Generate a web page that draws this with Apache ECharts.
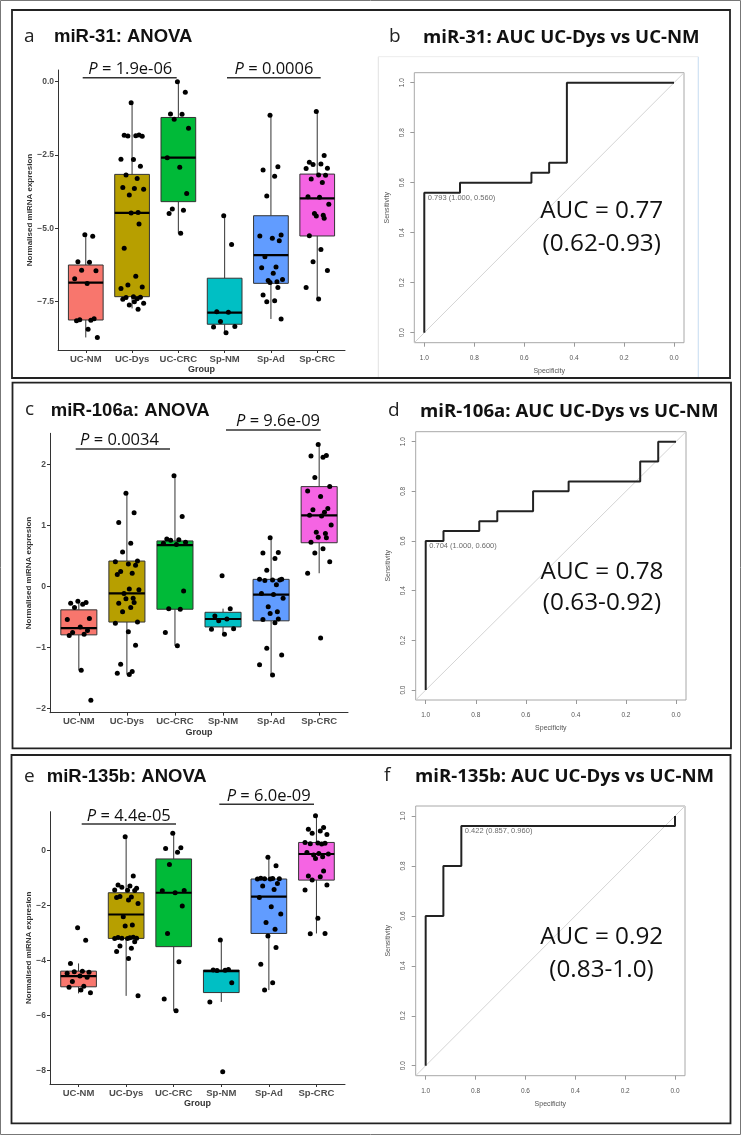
<!DOCTYPE html>
<html><head><meta charset="utf-8">
<script src="https://cdn.jsdelivr.net/npm/echarts@6/dist/echarts.min.js"></script>
<style>html,body{margin:0;padding:0;background:#fff}#c{width:741px;height:1135px}</style>
</head><body><div id="c"></div><script>
// ---------- categories ----------
const GROUPS = ['UC-NM','UC-Dys','UC-CRC','Sp-NM','Sp-Ad','Sp-CRC'];
const BOX_COLORS = ['#F8766D','#B79F00','#00BA38','#00BFC4','#619CFF','#F564E3'];

// ---------- miR-31 (panel a) ----------
const a_low  = [-8.72, -7.73, -5.17, -8.56, -8.09, -7.41];
const a_q1   = [-8.125, -7.33, -4.09, -8.27, -6.875, -5.26];
const a_med  = [-6.85, -4.47, -2.59, -7.875, -5.91, -3.98];
const a_q3   = [-6.25, -3.16, -1.22, -6.70, -4.57, -3.15];
const a_high = [-5.25, -0.72, 0.0, -4.57, -1.14, -1.02];
const a_UCNM  = [-5.22,-5.27,-6.14,-6.16,-6.43,-6.45,-6.72,-6.88,-8.08,-8.12,-8.13,-8.15,-8.44,-8.72];
const a_UCDys = [-0.72,-1.82,-1.83,-1.84,-1.85,-1.86,-2.64,-2.65,-2.88,-3.18,-3.30,-3.61,-3.64,-3.67,-3.86,-4.46,-4.48,-4.85,-5.68,-6.63,-6.93,-7.00,-7.05,-7.33,-7.35,-7.36,-7.40,-7.42,-7.50,-7.55,-7.61,-7.76];
const a_UCCRC = [0.0,-0.36,-1.10,-1.11,-1.28,-1.59,-2.59,-2.92,-3.81,-4.34,-4.38,-4.49,-5.17];
const a_SpNM  = [-4.57,-5.55,-7.84,-7.86,-8.18,-8.35,-8.36,-8.56];
const a_SpAd  = [-1.14,-2.90,-3.01,-3.22,-3.90,-5.23,-5.26,-5.34,-5.42,-5.97,-6.32,-6.34,-6.53,-6.74,-6.78,-6.82,-6.85,-7.02,-7.27,-7.47,-7.50,-8.09];
const a_SpCRC = [-1.02,-2.52,-2.75,-2.81,-2.82,-2.95,-2.96,-3.18,-3.19,-3.32,-3.44,-3.92,-3.94,-4.18,-4.49,-4.55,-4.58,-4.66,-5.25,-5.72,-6.14,-6.44,-7.02,-7.41];
const a_ticks = [-7.5,-5,-2.5,0];

// ---------- miR-106a (panel c) ----------
const c_low  = [-1.37, -1.44, -0.97, -0.78, -1.45, 0.22];
const c_q1   = [-0.79, -0.58, -0.37, -0.66, -0.56, 0.72];
const c_med  = [-0.68, -0.11, 0.68, -0.53, -0.13, 1.17];
const c_q3   = [-0.38, 0.42, 0.75, -0.42, 0.12, 1.64];
const c_high = [-0.24, 1.53, 1.82, -0.36, 0.80, 2.33];
const c_UCNM  = [-0.24,-0.26,-0.27,-0.29,-0.34,-0.52,-0.54,-0.66,-0.72,-0.75,-0.78,-0.80,-1.37,-1.86];
const c_UCDys = [1.53,1.21,1.05,0.71,0.57,0.42,0.41,0.37,0.35,0.25,0.22,0.20,-0.04,-0.05,-0.11,-0.19,-0.20,-0.26,-0.27,-0.34,-0.41,-0.58,-0.60,-0.74,-0.96,-1.27,-1.39,-1.42,-1.44];
const c_UCCRC = [1.82,1.15,0.78,0.77,0.76,0.73,0.71,0.69,-0.07,-0.36,-0.37,-0.75,-0.97];
const c_SpNM  = [0.18,-0.36,-0.48,-0.53,-0.56,-0.69,-0.70,-0.78];
const c_SpAd  = [0.80,0.56,0.55,0.46,0.27,0.12,0.12,0.11,0.11,0.10,0.03,-0.11,-0.13,-0.19,-0.33,-0.41,-0.44,-0.53,-0.54,-0.59,-1.01,-1.12,-1.28,-1.45];
const c_SpCRC = [2.33,2.15,2.14,2.12,1.79,1.64,1.57,1.48,1.28,1.26,1.22,1.17,1.16,1.01,0.89,0.87,0.81,0.80,0.73,0.62,0.55,0.41,0.22,-0.84];
const c_ticks = [-2,-1,0,1,2];

// ---------- miR-135b (panel e) ----------
const e_low  = [-5.19, -5.28, -5.82, -5.50, -5.07, -3.01];
const e_q1   = [-4.95, -3.19, -3.49, -5.16, -3.01, -1.07];
const e_med  = [-4.56, -2.32, -1.53, -4.38, -1.67, -0.12];
const e_q3   = [-4.38, -1.53, -0.30, -4.34, -1.03, 0.30];
const e_high = [-4.10, 0.51, 0.63, -3.25, -0.24, 1.27];
const e_UCNM  = [-2.80,-3.26,-4.10,-4.38,-4.40,-4.42,-4.46,-4.56,-4.60,-4.76,-4.93,-4.97,-5.07,-5.17];
const e_UCDys = [0.51,-0.92,-1.25,-1.28,-1.33,-1.37,-1.43,-1.44,-1.45,-1.67,-1.68,-1.70,-1.79,-1.92,-2.40,-2.70,-2.74,-3.15,-3.16,-3.17,-3.18,-3.18,-3.19,-3.19,-3.31,-3.47,-3.55,-3.67,-3.92,-5.28];
const e_UCCRC = [0.63,0.11,0.08,-0.06,-0.50,-1.45,-1.46,-1.53,-2.01,-3.01,-4.04,-5.39,-5.82];
const e_SpNM  = [-3.25,-4.32,-4.34,-4.35,-4.36,-4.80,-5.50,-8.04];
const e_SpAd  = [-0.24,-0.55,-1.00,-1.01,-1.02,-1.02,-1.03,-1.03,-1.19,-1.28,-1.41,-1.70,-2.04,-2.30,-2.61,-2.86,-3.10,-3.52,-4.13,-4.80,-5.07];
const e_SpCRC = [1.27,0.84,0.78,0.72,0.63,0.59,0.30,0.28,0.27,0.25,0.24,-0.07,-0.10,-0.12,-0.16,-0.22,-0.28,-0.74,-0.92,-0.95,-1.07,-1.25,-1.43,-2.46,-3.01,-3.02];
const e_ticks = [-8,-6,-4,-2,0];

// ---------- ROC curves ----------
const rocB_spec = [1, 1, 0.857, 0.857, 0.571, 0.571, 0.5, 0.5, 0.429, 0.429, 0];
const rocB_sens = [0, 0.56, 0.56, 0.60, 0.60, 0.64, 0.64, 0.68, 0.68, 1.0, 1.0];
const rocB_best = [0.793, 1.000, 0.560];
const rocD_spec = [1, 1, 0.929, 0.929, 0.786, 0.786, 0.714, 0.714, 0.571, 0.571, 0.429, 0.429, 0.143, 0.143, 0.071, 0.071, 0];
const rocD_sens = [0, 0.60, 0.60, 0.64, 0.64, 0.68, 0.68, 0.72, 0.72, 0.80, 0.80, 0.84, 0.84, 0.92, 0.92, 1.0, 1.0];
const rocD_best = [0.704, 1.000, 0.600];
const rocF_spec = [1, 1, 0.929, 0.929, 0.857, 0.857, 0, 0];
const rocF_sens = [0, 0.60, 0.60, 0.80, 0.80, 0.96, 0.96, 1.0];
const rocF_best = [0.422, 0.857, 0.960];
const roc_ticks = [0, 0.2, 0.4, 0.6, 0.8, 1.0];

// ---------- build ----------
const JIT = [-0.02, 0.15, -0.17, 0.08, -0.09, 0.22, -0.24, 0.03, 0.18, -0.13, 0.11, -0.2, 0.05, 0.25, -0.06, 0.13];
const grid = [], xAxis = [], yAxis = [], series = [], graphic = [];
const minus = s => String(s).replace('-', '\u2212');
const FONT = 'Liberation Sans';

function boxRender(params, api) {
  const x = api.value(0);
  const pLow = api.coord([x, api.value(1)]);
  const pQ1 = api.coord([x, api.value(2)]);
  const pMed = api.coord([x, api.value(3)]);
  const pQ3 = api.coord([x, api.value(4)]);
  const pHigh = api.coord([x, api.value(5)]);
  const w = api.size([0.75, 0])[0];
  const col = BOX_COLORS[params.dataIndex];
  const st = {stroke: '#333', lineWidth: 1};
  return {type: 'group', children: [
    {type: 'line', shape: {x1: pLow[0], y1: pLow[1], x2: pQ1[0], y2: pQ1[1]}, style: st},
    {type: 'line', shape: {x1: pQ3[0], y1: pQ3[1], x2: pHigh[0], y2: pHigh[1]}, style: st},
    {type: 'rect', shape: {x: pQ3[0] - w / 2, y: pQ3[1], width: w, height: pQ1[1] - pQ3[1]}, style: {fill: col, stroke: '#333', lineWidth: 1}},
    {type: 'line', shape: {x1: pMed[0] - w / 2, y1: pMed[1], x2: pMed[0] + w / 2, y2: pMed[1]}, style: {stroke: '#000', lineWidth: 2.2}}
  ]};
}

function boxPanel(g, yr, ticks, fmt, nameGap, stats, dots) {
  const gi = grid.length;
  grid.push({left: g[0], top: g[1], width: g[2], height: g[3]});
  xAxis.push({type: 'value', gridIndex: gi, min: -0.6, max: 5.6, splitLine: {show: false},
    axisLine: {show: true, onZero: false, lineStyle: {color: '#333', width: 1}},
    axisTick: {show: true, customValues: [0,1,2,3,4,5], length: 3, lineStyle: {color: '#333'}},
    axisLabel: {customValues: [0,1,2,3,4,5], formatter: v => GROUPS[Math.round(v)], margin: 4,
      fontSize: 9.5, fontWeight: 'bold', color: '#4d4d4d', fontFamily: FONT},
    name: 'Group', nameLocation: 'middle', nameGap: 13,
    nameTextStyle: {fontSize: 9, fontWeight: 'bold', color: '#333', fontFamily: FONT}});
  yAxis.push({type: 'value', gridIndex: gi, min: yr[0], max: yr[1], splitLine: {show: false},
    axisLine: {show: true, onZero: false, lineStyle: {color: '#333', width: 1}},
    axisTick: {show: true, customValues: ticks, length: 3, lineStyle: {color: '#333'}},
    axisLabel: {customValues: ticks, formatter: v => minus(fmt(v)), margin: 4,
      fontSize: 8.5, fontWeight: 'bold', color: '#4d4d4d', fontFamily: FONT},
    name: 'Normalised miRNA expresion', nameLocation: 'middle', nameGap: nameGap, nameRotate: 90,
    nameTextStyle: {fontSize: 8, fontWeight: 'bold', color: '#333', fontFamily: FONT}});
  series.push({type: 'custom', xAxisIndex: gi, yAxisIndex: gi, renderItem: boxRender, clip: false, z: 2,
    encode: {x: 0, y: [1,2,3,4,5]},
    data: GROUPS.map((_, i) => [i, stats[0][i], stats[1][i], stats[2][i], stats[3][i], stats[4][i]])});
  const pts = [];
  dots.forEach((arr, i) => arr.forEach((v, k) => pts.push([i + JIT[k % JIT.length], v])));
  series.push({type: 'scatter', xAxisIndex: gi, yAxisIndex: gi, data: pts, symbolSize: 5, z: 3,
    itemStyle: {color: '#000', opacity: 1}, silent: true});
}

function rocPanel(g, spec, sens, best) {
  const gi = grid.length;
  grid.push({left: g[0], top: g[1], width: g[2], height: g[3], show: true, borderColor: '#a8a8a8', borderWidth: 1, backgroundColor: 'transparent'});
  const lab = {customValues: roc_ticks, formatter: v => v.toFixed(1), fontSize: 6.5, color: '#555', fontFamily: FONT};
  xAxis.push({type: 'value', gridIndex: gi, min: -0.04, max: 1.04, inverse: true, splitLine: {show: false},
    axisLine: {show: false, onZero: false}, axisTick: {show: true, customValues: roc_ticks, length: 4, lineStyle: {color: '#999'}},
    axisLabel: Object.assign({margin: 12}, lab),
    name: 'Specificity', nameLocation: 'middle', nameGap: 25,
    nameTextStyle: {fontSize: 7, color: '#555', fontFamily: FONT}});
  yAxis.push({type: 'value', gridIndex: gi, min: -0.04, max: 1.04, splitLine: {show: false},
    axisLine: {show: false, onZero: false}, axisTick: {show: true, customValues: roc_ticks, length: 4, lineStyle: {color: '#999'}},
    axisLabel: Object.assign({margin: 9, rotate: 90}, lab),
    name: 'Sensitivity', nameLocation: 'middle', nameGap: 24,
    nameTextStyle: {fontSize: 7, color: '#555', fontFamily: FONT}});
  series.push({type: 'line', xAxisIndex: gi, yAxisIndex: gi, data: [[1.04, -0.04], [-0.04, 1.04]], showSymbol: false,
    lineStyle: {color: '#d4d4d4', width: 1}, silent: true, z: 1});
  series.push({type: 'line', xAxisIndex: gi, yAxisIndex: gi, data: spec.map((s, k) => [s, sens[k]]), showSymbol: false,
    lineStyle: {color: '#222', width: 2}, silent: true, z: 2});
  series.push({type: 'scatter', xAxisIndex: gi, yAxisIndex: gi, data: [[best[1], best[2]]], symbolSize: 1,
    itemStyle: {color: 'rgba(0,0,0,0)'}, silent: true, z: 3,
    label: {show: true, position: 'right', distance: 3, offset: [0, 5], fontSize: 7.5, color: '#444', fontFamily: FONT,
      formatter: () => best[0].toFixed(3) + ' (' + best[1].toFixed(3) + ', ' + best[2].toFixed(3) + ')'}});
}

boxPanel([58, 70, 287, 280], [-9.148, 0.399], a_ticks, v => v.toFixed(1), 24,
  [a_low, a_q1, a_med, a_q3, a_high], [a_UCNM, a_UCDys, a_UCCRC, a_SpNM, a_SpAd, a_SpCRC]);
boxPanel([50, 433.3, 298, 279.4], [-2.066, 2.514], c_ticks, v => v.toFixed(0), 16.5,
  [c_low, c_q1, c_med, c_q3, c_high], [c_UCNM, c_UCDys, c_UCCRC, c_SpNM, c_SpAd, c_SpCRC]);
boxPanel([50, 811.7, 295, 272.3], [-8.485, 1.418], e_ticks, v => v.toFixed(0), 16.5,
  [e_low, e_q1, e_med, e_q3, e_high], [e_UCNM, e_UCDys, e_UCCRC, e_SpNM, e_SpAd, e_SpCRC]);
rocPanel([414.3, 72.7, 269.7, 270], rocB_spec, rocB_sens, rocB_best);
rocPanel([415.7, 431.7, 270.3, 268.3], rocD_spec, rocD_sens, rocD_best);
rocPanel([415.7, 806, 269.3, 269.7], rocF_spec, rocF_sens, rocF_best);

// ---------- frames & texts ----------
function rect(x, y, w, h, stroke, lw) {
  graphic.push({type: 'rect', z: 90, shape: {x, y, width: w, height: h}, style: {fill: 'none', stroke, lineWidth: lw}, silent: true});
}
function line(x1, y1, x2, y2, stroke, lw) {
  graphic.push({type: 'line', z: 90, shape: {x1, y1, x2, y2}, style: {stroke, lineWidth: lw}, silent: true});
}
function txt(x, y, text, o) {
  const st = Object.assign({text, fill: '#111', fontFamily: FONT, fontSize: 12, fontWeight: 'normal',
    textAlign: 'left', textVerticalAlign: 'middle'}, o);
  st.align = st.textAlign; st.verticalAlign = st.textVerticalAlign;
  graphic.push({type: 'text', z: 100, x, y, style: st, silent: true});
}
rect(0.5, 0.5, 740, 1134, '#777', 1);
rect(12, 10, 718, 368, '#222', 1.8);
rect(12.5, 382.7, 718.5, 365.6, '#222', 1.8);
rect(11.5, 755, 719, 368.3, '#222', 1.8);
// faint pasted-image border in panel b
line(378.3, 56.7, 378.3, 377, '#e2e2e2', 1);
line(378.3, 56.7, 698.3, 56.7, '#ececec', 1);
line(698.3, 56.7, 698.3, 377, '#cfe1f3', 1.2);

const LETTER = {fontFamily: 'Open Sans', fontSize: 19, fill: '#222'};
const LTITLE = {fontFamily: FONT, fontSize: 18.5, fontWeight: 'bold'};
const RTITLE = {fontFamily: 'Open Sans', fontSize: 18.6, fontWeight: 'bold'};
txt(24, 36.5, 'a', LETTER);  txt(54, 36.7, 'miR-31: ANOVA', LTITLE);
txt(389, 37, 'b', LETTER);   txt(423, 37.7, 'miR-31: AUC UC-Dys vs UC-NM', RTITLE);
txt(25, 410, 'c', LETTER);   txt(50.7, 410.7, 'miR-106a: ANOVA', LTITLE);
txt(388, 411, 'd', LETTER);  txt(420, 411.7, 'miR-106a: AUC UC-Dys vs UC-NM', RTITLE);
txt(24, 776.5, 'e', LETTER); txt(46.7, 777.3, 'miR-135b: ANOVA', LTITLE);
txt(384, 776, 'f', LETTER);  txt(415, 776.7, 'miR-135b: AUC UC-Dys vs UC-NM', RTITLE);

const PSTYLE = {fontFamily: 'Open Sans', fontSize: 16.5, textAlign: 'center',
  rich: {i: {fontStyle: 'italic', fontFamily: 'Open Sans', fontSize: 16.5, fill: '#111'},
         n: {fontFamily: 'Open Sans', fontSize: 16.5, fill: '#111'}}};
function pval(cx, cy, val, lx1, lx2, ly) {
  txt(cx, cy, '{i|P}{n| = ' + val + '}', PSTYLE);
  line(lx1, ly, lx2, ly, '#333', 1.5);
}
pval(130.3, 69, '1.9e-06', 82.7, 176.7, 77.7);
pval(274, 69, '0.0006', 227, 320.7, 77.7);
pval(119.5, 440, '0.0034', 75.7, 170, 449);
pval(278, 421.3, '9.6e-09', 226, 320.7, 430);
pval(128.8, 816.7, '4.4e-05', 81.7, 176, 824);
pval(268.7, 796.3, '6.0e-09', 219.3, 314, 804.3);

const AUC = {fontFamily: 'Open Sans', fontSize: 24.3, textAlign: 'center'};
txt(601.7, 210.7, 'AUC = 0.77', AUC); txt(601.7, 244.3, '(0.62-0.93)', AUC);
txt(602, 572.3, 'AUC = 0.78', AUC);   txt(602, 603.3, '(0.63-0.92)', AUC);
txt(601.7, 936.7, 'AUC = 0.92', AUC); txt(601.5, 970, '(0.83-1.0)', AUC);

const chart = echarts.init(document.getElementById('c'), null, {renderer: 'canvas', width: 741, height: 1135});
chart.setOption({backgroundColor: '#fff', animation: false, grid, xAxis, yAxis, series, graphic});
</script></body></html>
